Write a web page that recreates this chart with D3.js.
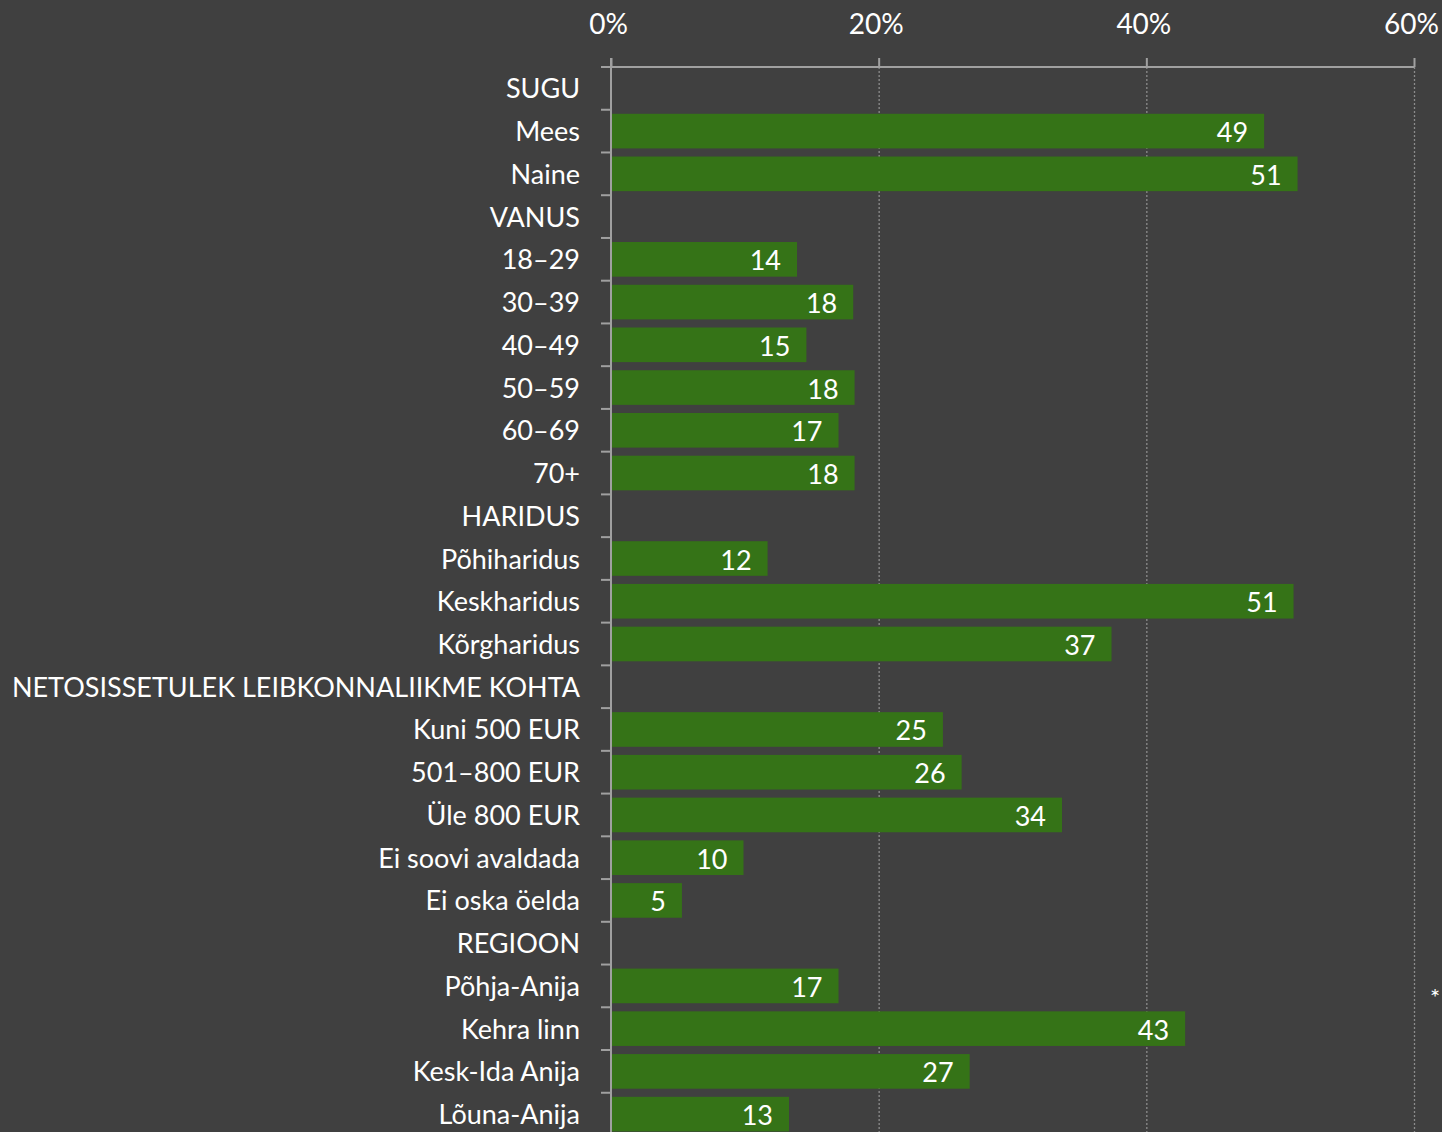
<!DOCTYPE html>
<html>
<head>
<meta charset="utf-8">
<script src="https://cdn.jsdelivr.net/npm/d3@7"></script>
<style>
  body { margin: 0; background: #404040; }
  svg { display: block; }
</style>
</head>
<body>
<svg id="chart" width="1442" height="1132"></svg>
<script>
// kategooriad (pealkirjad ilma väärtuseta)
const categories = [
  "SUGU", "Mees", "Naine",
  "VANUS", "18–29", "30–39", "40–49", "50–59", "60–69", "70+",
  "HARIDUS", "Põhiharidus", "Keskharidus", "Kõrgharidus",
  "NETOSISSETULEK LEIBKONNALIIKME KOHTA", "Kuni 500 EUR", "501–800 EUR", "Üle 800 EUR", "Ei soovi avaldada", "Ei oska öelda",
  "REGIOON", "Põhja-Anija", "Kehra linn", "Kesk-Ida Anija", "Lõuna-Anija"
];
const values = [
  null, 48.8, 51.3,
  null, 13.9, 18.1, 14.6, 18.2, 17.0, 18.2,
  null, 11.7, 51.0, 37.4,
  null, 24.8, 26.2, 33.7, 9.9, 5.3,
  null, 17.0, 42.9, 26.8, 13.3
];
const xTicks = [0, 20, 40, 60];

const svg = d3.select("#chart");
const mLeft = 611, mRight = 1414, mTop = 67;
const step = 42.74;

const x = d3.scaleLinear().domain([0, 60]).range([mLeft, mRight]);
const y = d3.scaleBand().domain(categories)
  .range([mTop, mTop + step * categories.length])
  .paddingInner(0.19).paddingOuter(0.095);

const data = categories.map((c, i) => ({ cat: c, v: values[i] }));

// ruudustik
svg.append("g").selectAll("line")
  .data(xTicks.filter(d => d > 0))
  .join("line")
  .attr("x1", d => x(d) + 0.5).attr("x2", d => x(d) + 0.5)
  .attr("y1", mTop).attr("y2", 1132)
  .attr("stroke", "#8c8c8c")
  .attr("stroke-width", 1.3)
  .attr("stroke-dasharray", "2,2");

// tulbad
svg.append("g").selectAll("rect")
  .data(data.filter(d => d.v !== null))
  .join("rect")
  .attr("x", x(0))
  .attr("y", d => y(d.cat))
  .attr("width", d => x(d.v) - x(0))
  .attr("height", y.bandwidth())
  .attr("fill", "#357317");

// väärtused
svg.append("g").selectAll("text")
  .data(data.filter(d => d.v !== null))
  .join("text")
  .attr("x", d => x(d.v) - 16)
  .attr("y", d => y(d.cat) + y.bandwidth() / 2 + 11)
  .attr("text-anchor", "end")
  .attr("font-family", "Lato")
  .attr("font-size", "27px")
  .attr("fill", "#fff")
  .text(d => Math.round(d.v));

// ülemine telg
const xAxis = svg.append("g")
  .attr("transform", `translate(0,${mTop})`)
  .call(d3.axisTop(x).tickValues(xTicks).tickFormat(d => d + "%").tickSize(9).tickPadding(24));
xAxis.selectAll("path, line").attr("stroke", "#a0a0a0").attr("stroke-width", 2);
xAxis.select(".domain").attr("d", `M${mLeft},0H${mRight}`);
xAxis.selectAll("text")
  .attr("font-family", "Lato")
  .attr("font-size", "28px")
  .attr("fill", "#fff")
  .attr("dx", "-3");

// vasak telg
const yAxis = svg.append("g")
  .attr("transform", `translate(${mLeft},0)`)
  .call(d3.axisLeft(y).tickSize(0).tickPadding(31));
yAxis.select(".domain").attr("d", `M0,${mTop - 9}V1132`).attr("stroke", "#a0a0a0").attr("stroke-width", 2);
yAxis.selectAll("text")
  .attr("font-family", "Lato")
  .attr("font-size", "27px")
  .attr("fill", "#fff")
  .attr("dy", "0.37em");

// jaotusjooned kategooriate vahel
svg.append("g").selectAll("line")
  .data(d3.range(categories.length + 1))
  .join("line")
  .attr("x1", mLeft - 10).attr("x2", mLeft)
  .attr("y1", i => mTop + i * step).attr("y2", i => mTop + i * step)
  .attr("stroke", "#a0a0a0")
  .attr("stroke-width", 2);

svg.append("text")
  .attr("x", 1430).attr("y", 1006)
  .attr("font-family", "Lato")
  .attr("font-size", "24px")
  .attr("fill", "#fff")
  .text("*");
</script>
</body>
</html>
